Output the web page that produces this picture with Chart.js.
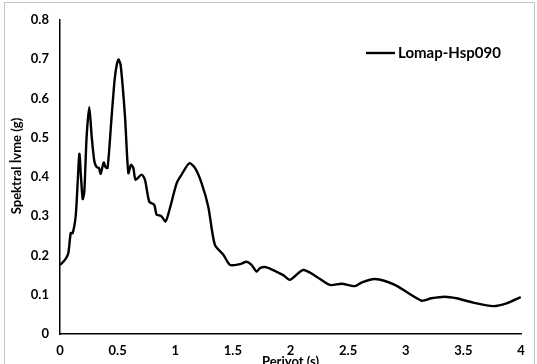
<!DOCTYPE html>
<html>
<head>
<meta charset="utf-8">
<script src="https://cdn.jsdelivr.net/npm/chart.js@4.4.0/dist/chart.umd.min.js"></script>
<style>
html,body{margin:0;padding:0;background:#fff;overflow:hidden;width:537px;height:364px;}
#frame{position:absolute;left:4px;top:2px;width:529px;height:380px;border:1px solid #c4c4c4;}
#c{position:absolute;left:0;top:0;}
</style>
</head>
<body>
<div id="frame"></div>
<canvas id="c" width="537" height="364"></canvas>
<script>
const seriesName = "Lomap-Hsp090";
const xTitle = "Periyot (s)";
const yTitle = "Spektral İvme (g)";
const periods = [0,0.043,0.072,0.093,0.11,0.136,0.153,0.168,0.182,0.197,0.211,0.231,0.254,0.275,0.298,0.318,0.338,0.353,0.379,0.396,0.413,0.448,0.477,0.506,0.526,0.564,0.593,0.616,0.636,0.656,0.708,0.737,0.775,0.818,0.838,0.876,0.916,0.954,1.012,1.055,1.122,1.171,1.229,1.286,1.344,1.417,1.475,1.561,1.619,1.662,1.706,1.735,1.793,1.937,1.995,2.110,2.226,2.342,2.443,2.558,2.616,2.732,2.905,3.136,3.222,3.338,3.440,3.585,3.758,3.874,3.998];
const accel = [0.176,0.189,0.206,0.257,0.257,0.300,0.384,0.459,0.401,0.344,0.363,0.503,0.578,0.503,0.440,0.425,0.423,0.408,0.437,0.425,0.423,0.554,0.656,0.699,0.686,0.554,0.410,0.431,0.423,0.393,0.406,0.393,0.337,0.329,0.304,0.301,0.287,0.321,0.384,0.406,0.435,0.423,0.384,0.325,0.227,0.202,0.176,0.178,0.184,0.176,0.159,0.168,0.170,0.150,0.138,0.163,0.146,0.125,0.128,0.122,0.131,0.140,0.125,0.085,0.091,0.095,0.091,0.080,0.071,0.078,0.094];
const xTicks = [0,0.5,1,1.5,2,2.5,3,3.5,4];
const yTicks = [0,0.1,0.2,0.3,0.4,0.5,0.6,0.7,0.8];

const FONT = "Lato, 'Open Sans', sans-serif";

const customText = {
  id: 'customText',
  afterDraw(chart) {
    const ctx = chart.ctx;
    const area = chart.chartArea;
    ctx.save();
    ctx.fillStyle = '#000';
    ctx.font = "bold 13px " + FONT;
    ctx.textAlign = 'center';
    ctx.textBaseline = 'middle';
    ctx.translate(17, 166);
    ctx.rotate(-Math.PI / 2);
    ctx.fillText(yTitle, 0, 0);
    ctx.restore();
    ctx.save();
    ctx.fillStyle = '#000';
    ctx.font = "bold 13px " + FONT;
    ctx.textAlign = 'center';
    ctx.textBaseline = 'top';
    ctx.fillText(xTitle, (area.left + area.right) / 2, 355);
    const ds = chart.data.datasets[0];
    ctx.strokeStyle = ds.borderColor;
    ctx.lineWidth = 2.4;
    ctx.beginPath();
    ctx.moveTo(366, 53);
    ctx.lineTo(395, 53);
    ctx.stroke();
    ctx.font = "bold 15px " + FONT;
    ctx.textAlign = 'left';
    ctx.textBaseline = 'middle';
    ctx.fillText(ds.label, 398, 53);
    ctx.restore();
  }
};

new Chart(document.getElementById('c'), {
  type: 'line',
  data: {
    datasets: [{
      label: seriesName,
      data: periods.map((p, i) => ({x: p, y: accel[i]})),
      borderColor: '#000',
      borderWidth: 2.4,
      pointRadius: 0,
      tension: 0.25,
      fill: false
    }]
  },
  options: {
    responsive: false,
    animation: false,
    layout: {padding: {top: 20, right: 16, left: 0, bottom: 0}},
    plugins: {legend: {display: false}, tooltip: {enabled: false}},
    scales: {
      x: {
        type: 'linear', min: 0, max: 4,
        afterBuildTicks: s => { s.ticks = xTicks.map(v => ({value: v})); },
        afterFit: s => { s.height = 30; },
        grid: {display: false, drawTicks: false},
        border: {display: true, color: '#000', width: 1.5},
        ticks: {padding: 9, color: '#000', font: {family: FONT, size: 13, weight: 'bold'}, maxRotation: 0,
          callback: v => String(v)}
      },
      y: {
        type: 'linear', min: 0, max: 0.8,
        afterBuildTicks: s => { s.ticks = yTicks.map(v => ({value: v})); },
        afterFit: s => { s.width = 60; },
        grid: {display: false, drawTicks: false},
        border: {display: true, color: '#000', width: 1.5},
        ticks: {padding: 11, color: '#000', font: {family: FONT, size: 13, weight: 'bold'},
          callback: v => String(Math.round(v * 10) / 10)}
      }
    }
  },
  plugins: [customText]
});
</script>
</body>
</html>
